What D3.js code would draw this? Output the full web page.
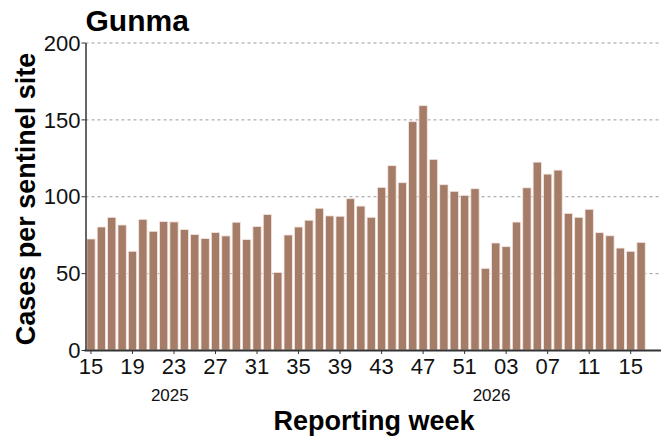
<!DOCTYPE html>
<html>
<head>
<meta charset="utf-8">
<script src="https://cdn.jsdelivr.net/npm/d3@7"></script>
<style>
  body { margin: 0; background: #fff; }
  text { font-family: "Liberation Sans", Arial, sans-serif; }
</style>
</head>
<body>
<svg id="chart" width="671" height="439"></svg>
<script>
// weeks 2025-15 .. 2026-16
var weeks2025 = d3.range(15, 53);
var weeks2026 = d3.range(1, 17);
var weeks = weeks2025.map(function(w) { return "2025-" + w; })
  .concat(weeks2026.map(function(w) { return "2026-" + w; }));

var cases = [
  72.2, 80.0, 86.3, 81.3, 64.2, 85.0, 77.2, 83.5, 83.3, 78.3,
  75.1, 72.5, 76.4, 74.2, 83.1, 71.8, 80.3, 88.1, 50.5, 74.8,
  80.0, 84.4, 92.2, 87.2, 87.0, 98.4, 93.6, 86.3, 105.8, 119.9,
  108.8, 148.5, 158.9, 124.0, 107.5, 103.2, 100.6, 104.9,
  53.1, 69.6, 67.2, 83.2, 105.5, 122.2, 114.4, 117.0, 88.9, 86.3,
  91.5, 76.3, 74.3, 66.3, 64.2, 70.0
];

var yTicks = [0, 50, 100, 150, 200];
var xTickWeeks = ["2025-15", "2025-19", "2025-23", "2025-27", "2025-31", "2025-35",
  "2025-39", "2025-43", "2025-47", "2025-51", "2026-3", "2026-7", "2026-11", "2026-15"];
// year label sits between these two weeks
var yearLabels = [
  { year: "2025", from: "2025-22", to: "2025-23" },
  { year: "2026", from: "2026-1", to: "2026-2" }
];

drawChart();

function drawChart() {
  var svg = d3.select("#chart");
  var plotLeft = 85.5, plotRight = 661, plotTop = 42.5, plotBottom = 350;
  var step = 10.36;

  var x = d3.scaleBand()
    .domain(weeks)
    .range([plotLeft + 0.8, plotLeft + 0.8 + step * weeks.length])
    .paddingInner(0.2)
    .paddingOuter(0.05);

  var y = d3.scaleLinear().domain([0, 200]).range([plotBottom, plotTop]);

  // grid
  svg.append("g")
    .selectAll("line")
    .data(yTicks.filter(function(d) { return d > 0; }))
    .enter()
    .append("line")
    .attr("x1", plotLeft)
    .attr("x2", plotRight)
    .attr("y1", function(d) { return y(d) + 0.5; })
    .attr("y2", function(d) { return y(d) + 0.5; })
    .attr("stroke", "#9a9a9a")
    .attr("stroke-width", 1)
    .attr("stroke-dasharray", "3,3");

  // bars
  svg.append("g")
    .selectAll("rect")
    .data(cases)
    .enter()
    .append("rect")
    .attr("x", function(d, i) { return x(weeks[i]); })
    .attr("width", x.bandwidth())
    .attr("y", function(d) { return y(d); })
    .attr("height", function(d) { return plotBottom - y(d); })
    .attr("fill", "#a57c67")
    .attr("stroke", "#f3e6e1")
    .attr("stroke-width", 0.8);

  // y axis
  var yAxis = svg.append("g")
    .attr("transform", "translate(" + plotLeft + ",0)")
    .call(d3.axisLeft(y).tickValues(yTicks).tickSize(4).tickSizeOuter(0));
  yAxis.select(".domain").attr("stroke", "#333").attr("stroke-width", 1.5);
  yAxis.selectAll(".tick line").attr("stroke", "#333");
  yAxis.selectAll(".tick text")
    .attr("font-size", 22)
    .attr("fill", "#111")
    .attr("x", -5)
    .attr("dy", "0.35em");

  // x axis
  var xAxis = svg.append("g")
    .attr("transform", "translate(0," + plotBottom + ")")
    .call(d3.axisBottom(x)
      .tickValues(xTickWeeks)
      .tickFormat(function(d) { return d3.format("02d")(+d.split("-")[1]); })
      .tickSize(4)
      .tickSizeOuter(0));
  xAxis.select(".domain").remove();
  xAxis.append("line")
    .attr("x1", plotLeft - 1)
    .attr("x2", plotRight)
    .attr("y1", 0.5)
    .attr("y2", 0.5)
    .attr("stroke", "#333")
    .attr("stroke-width", 2);
  xAxis.selectAll(".tick line").attr("stroke", "#333");
  xAxis.selectAll(".tick text")
    .attr("font-size", 22)
    .attr("fill", "#111")
    .attr("y", 8.5);

  // year labels
  svg.append("g")
    .selectAll("text")
    .data(yearLabels)
    .enter()
    .append("text")
    .attr("x", function(d) {
      return (x(d.from) + x(d.to)) / 2 + x.bandwidth() / 2 + 1;
    })
    .attr("y", 401)
    .attr("text-anchor", "middle")
    .attr("font-size", 17)
    .attr("fill", "#111")
    .text(function(d) { return d.year; });

  // titles
  svg.append("text")
    .attr("x", plotLeft)
    .attr("y", 31)
    .attr("font-size", 30)
    .attr("font-weight", "bold")
    .attr("fill", "#000")
    .text("Gunma");

  svg.append("text")
    .attr("x", 374)
    .attr("y", 429.5)
    .attr("text-anchor", "middle")
    .attr("font-size", 27)
    .attr("font-weight", "bold")
    .attr("fill", "#000")
    .text("Reporting week");

  svg.append("text")
    .attr("transform", "translate(35,199) rotate(-90)")
    .attr("text-anchor", "middle")
    .attr("font-size", 27)
    .attr("font-weight", "bold")
    .attr("fill", "#000")
    .text("Cases per sentinel site");
}
</script>
</body>
</html>
